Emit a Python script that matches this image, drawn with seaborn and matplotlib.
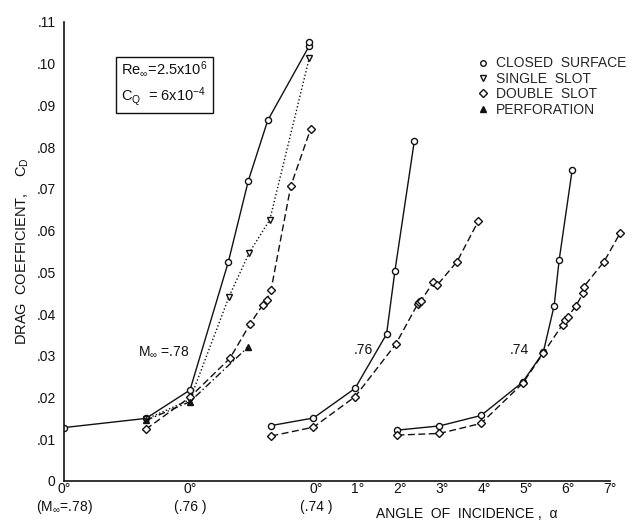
import matplotlib
matplotlib.use("Agg")
import matplotlib.pyplot as plt
import matplotlib.transforms as mtransforms
from matplotlib.lines import Line2D
import numpy as np
import pandas as pd
import seaborn as sns

# angle of incidence (deg) and drag coefficient
# each Mach number is drawn on its own shifted alpha origin
mach_offset = {".78": 0, ".76": 3, ".74": 6}

closed78_a = [0.0, 1.95, 3.0, 3.91, 4.39, 4.85, 5.84, 5.84]
closed78_cd = [0.0128, 0.0150, 0.0218, 0.0524, 0.0720, 0.0864, 0.1043, 0.1052]
single78_a = [1.95, 3.0, 3.93, 4.41, 4.90, 5.84]
single78_cd = [0.0148, 0.0195, 0.0442, 0.0547, 0.0626, 0.1014]
double78_a = [1.95, 3.0, 3.95, 4.43, 4.73, 4.83, 4.93, 5.40, 5.87]
double78_cd = [0.0124, 0.0201, 0.0294, 0.0376, 0.0422, 0.0434, 0.0458, 0.0707, 0.0843]
perf78_a = [1.95, 3.0, 4.39]
perf78_cd = [0.0145, 0.0190, 0.0322]

closed76_a = [1.94, 2.94, 3.93, 4.68, 4.88, 5.34]
closed76_cd = [0.0133, 0.0151, 0.0222, 0.0352, 0.0504, 0.0814]
double76_a = [1.94, 2.94, 3.93, 4.90, 5.42, 5.46, 5.50, 5.79, 5.89, 6.36, 6.86]
double76_cd = [0.0108, 0.0129, 0.0202, 0.0328, 0.0424, 0.0428, 0.0432, 0.0476, 0.0470, 0.0526, 0.0622]

closed74_a = [1.94, 2.94, 3.93, 4.92, 5.41, 5.67, 5.79, 6.10]
closed74_cd = [0.0122, 0.0132, 0.0157, 0.0237, 0.0308, 0.0420, 0.0530, 0.0746]
double74_a = [1.94, 2.94, 3.93, 4.92, 5.41, 5.87, 5.92, 6.00, 6.19, 6.36, 6.38, 6.86, 7.24]
double74_cd = [0.0110, 0.0114, 0.0138, 0.0234, 0.0306, 0.0375, 0.0385, 0.0394, 0.0420, 0.0450, 0.0466, 0.0526, 0.0594]

major_x = [0, 3, 6, 7, 8, 9, 10, 11, 12, 13]
major_x_labels = ["0°", "0°", "0°", "1°", "2°", "3°", "4°", "5°", "6°", "7°"]
origin_x = [0, 3, 6]
origin_labels = ["(M$_\\infty$=.78)", "(.76 )", "(.74 )"]
minor_x = [1, 2, 4, 5]
y_ticks = [0, .01, .02, .03, .04, .05, .06, .07, .08, .09, .10, .11]
y_labels = ["0", ".01", ".02", ".03", ".04", ".05", ".06", ".07", ".08", ".09", ".10", ".11"]

sns.set_style("white")
plt.rcParams["font.family"] = ["Liberation Sans", "DejaVu Sans"]
plt.rcParams["mathtext.default"] = "regular"

ink = "#111111"
fs = 10
styles = {
    "closed": dict(marker="o", mfc="white", dashes=None),
    "single": dict(marker="v", mfc="white", dashes=(1, 1.6)),
    "double": dict(marker="D", mfc="white", dashes=(5, 2.5)),
    "perf": dict(marker="^", mfc=ink, dashes=(5, 2, 1, 2)),
}

series = [
    ("closed", ".78", closed78_a, closed78_cd),
    ("single", ".78", single78_a, single78_cd),
    ("double", ".78", double78_a, double78_cd),
    ("perf", ".78", perf78_a, perf78_cd),
    ("closed", ".76", closed76_a, closed76_cd),
    ("double", ".76", double76_a, double76_cd),
    ("closed", ".74", closed74_a, closed74_cd),
    ("double", ".74", double74_a, double74_cd),
]

fig = plt.figure(figsize=(6.36, 5.22), dpi=100)
ax = fig.add_axes([64 / 636, 41 / 522, (626.8 - 64) / 636, (481 - 22) / 522])

for cfg, mach, a, cd in series:
    df = pd.DataFrame({"u": np.array(a) + mach_offset[mach], "cd": cd})
    st = styles[cfg]
    ms = 4.4 if st["marker"] != "D" else 3.8
    sns.lineplot(data=df, x="u", y="cd", ax=ax, sort=False, estimator=None,
                 color=ink, lw=1.0, marker=st["marker"], markersize=ms,
                 markerfacecolor=st["mfc"], markeredgecolor=ink,
                 markeredgewidth=1.0, legend=False)
    if st["dashes"] is not None:
        ax.lines[-1].set_dashes(st["dashes"])

ax.set_xlim(0, 13.4)
ax.set_ylim(0, 0.11)
ax.spines["top"].set_visible(False)
ax.spines["right"].set_visible(False)
for s in ("left", "bottom"):
    ax.spines[s].set_color(ink)
    ax.spines[s].set_linewidth(1.2)
ax.spines["bottom"].set_bounds(0, 13)

ax.set_xticks(major_x)
ax.set_xticklabels(major_x_labels, fontsize=fs)
ax.set_xticks(minor_x, minor=True)
ax.set_yticks(y_ticks)
ax.set_yticklabels(y_labels, fontsize=fs)
ax.tick_params(axis="both", which="major", direction="in", length=5, width=1, color=ink, labelcolor=ink)
ax.tick_params(axis="x", which="major", pad=1)
ax.tick_params(axis="x", which="minor", direction="in", length=3, width=1, color=ink)
ax.tick_params(axis="y", which="major", pad=6)

trans = mtransforms.blended_transform_factory(ax.transData, ax.transAxes)
for xo, lab in zip(origin_x, origin_labels):
    ax.text(xo, -0.057, lab, transform=trans, ha="center", va="center", fontsize=fs, color=ink)

ax.set_ylabel("DRAG  COEFFICIENT,    C$_D$", fontsize=10.5, color=ink)
ax.yaxis.set_label_coords(-0.058, 0.5)
ax.set_xlabel("ANGLE  OF  INCIDENCE ,  α", fontsize=fs, color=ink)
ax.xaxis.set_label_coords(0.716, -0.057)

ax.text(1.36, 0.0952, "Re$_\\infty$=2.5x10$^6$\nC$_Q$  = 6x10$^{-4}$", fontsize=10.5,
        va="center", ha="left", color=ink, linespacing=1.45,
        bbox=dict(boxstyle="square,pad=0.35", fc="white", ec=ink, lw=1))

ax.text(1.76, 0.0309, "M$_\\infty$ =.78", fontsize=fs, va="center", color=ink)
ax.text(6.9, 0.0314, ".76", fontsize=fs, va="center", color=ink)
ax.text(10.62, 0.0314, ".74", fontsize=fs, va="center", color=ink)

handles = [
    Line2D([], [], ls="none", marker="o", ms=4, mfc="white", mec=ink, mew=1),
    Line2D([], [], ls="none", marker="v", ms=4, mfc="white", mec=ink, mew=1),
    Line2D([], [], ls="none", marker="D", ms=3.6, mfc="white", mec=ink, mew=1),
    Line2D([], [], ls="none", marker="^", ms=4, mfc=ink, mec=ink, mew=1),
]
labels = ["CLOSED  SURFACE", "SINGLE  SLOT", "DOUBLE  SLOT", "PERFORATION"]
ax.legend(handles, labels, loc="upper left", bbox_to_anchor=(0.735, 0.925),
          frameon=False, fontsize=10, handlelength=0.8, handletextpad=0.5,
          labelspacing=0.1, borderpad=0, borderaxespad=0)

fig.savefig("out.png", dpi=100, facecolor="white")
